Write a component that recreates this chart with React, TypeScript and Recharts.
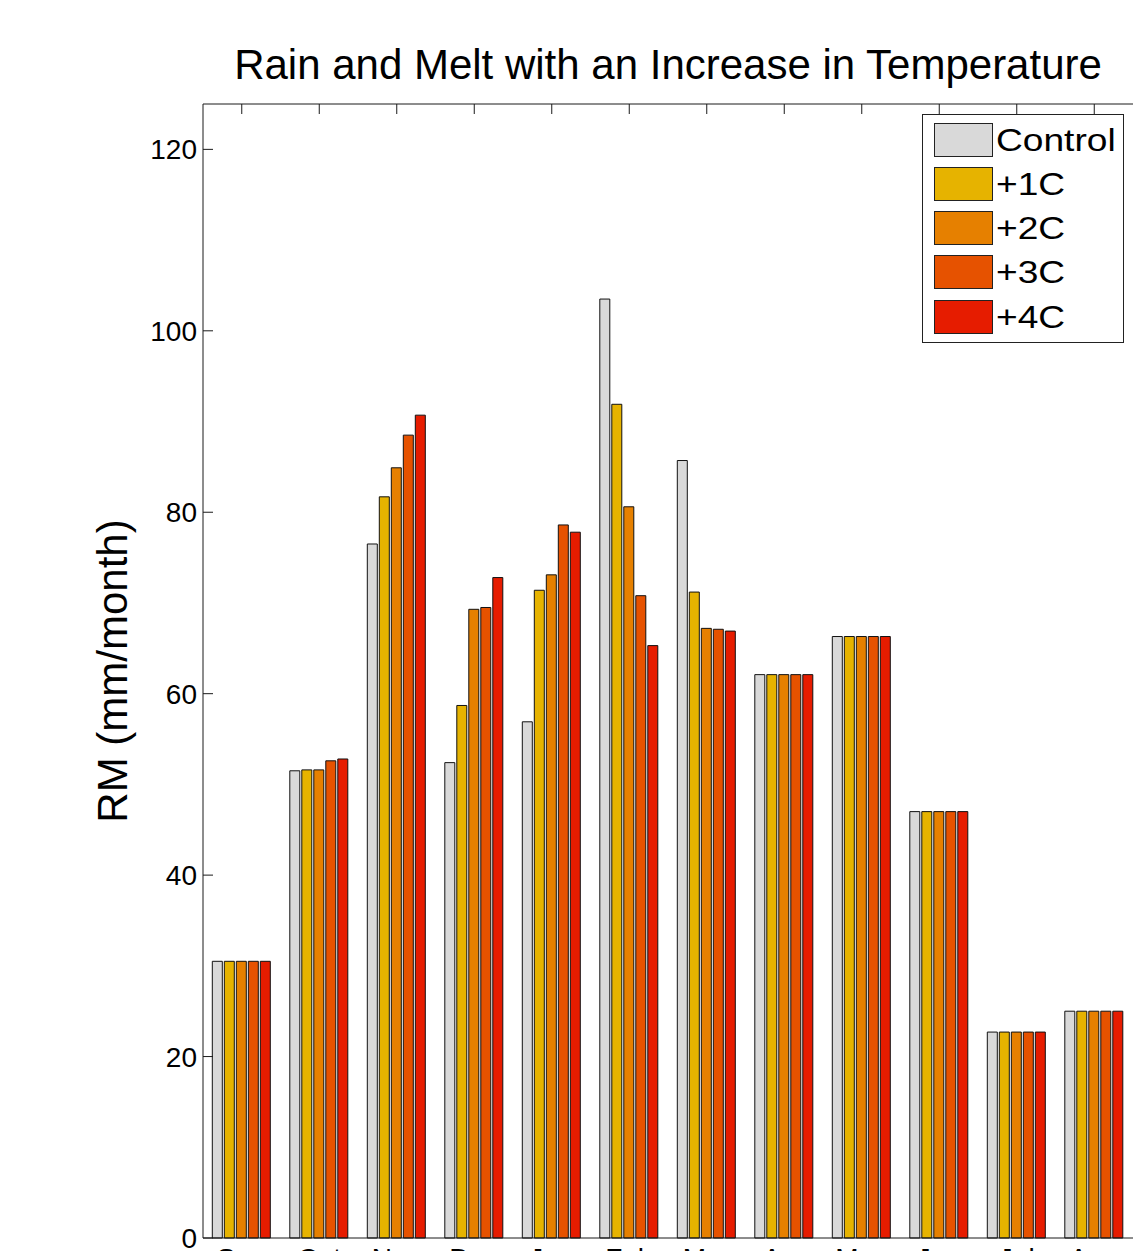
import { Bar, BarChart, Label, XAxis, YAxis } from 'recharts';

const FONT = '"Liberation Sans", Arial, Helvetica, sans-serif';

const MONTHS = ['Sep', 'Oct', 'Nov', 'Dec', 'Jan', 'Feb', 'Mar', 'Apr', 'May', 'Jun', 'Jul', 'Aug'];

// rain + melt, mm/month
const CONTROL = [30.5, 51.5, 76.5, 52.4, 56.9, 103.5, 85.7, 62.1, 66.3, 47.0, 22.7, 25.0];
const PLUS_1C = [30.5, 51.6, 81.7, 58.7, 71.4, 91.9, 71.2, 62.1, 66.3, 47.0, 22.7, 25.0];
const PLUS_2C = [30.5, 51.6, 84.9, 69.3, 73.1, 80.6, 67.2, 62.1, 66.3, 47.0, 22.7, 25.0];
const PLUS_3C = [30.5, 52.6, 88.5, 69.5, 78.6, 70.8, 67.1, 62.1, 66.3, 47.0, 22.7, 25.0];
const PLUS_4C = [30.5, 52.8, 90.7, 72.8, 77.8, 65.3, 66.9, 62.1, 66.3, 47.0, 22.7, 25.0];

const Y_TICKS = [0, 20, 40, 60, 80, 100, 120];

const SERIES = [
  { key: 'control', label: 'Control', values: CONTROL, color: '#d9d9d9' },
  { key: 'p1', label: '+1C', values: PLUS_1C, color: '#e6b300' },
  { key: 'p2', label: '+2C', values: PLUS_2C, color: '#e68000' },
  { key: 'p3', label: '+3C', values: PLUS_3C, color: '#e65200' },
  { key: 'p4', label: '+4C', values: PLUS_4C, color: '#e61c00' },
];

const data = MONTHS.map((month, i) => {
  const row: Record<string, string | number> = { month };
  SERIES.forEach((s) => {
    row[s.key] = s.values[i];
  });
  return row;
});

const tickStyle = { fill: '#000', fontSize: 28, fontFamily: FONT };
const axisStroke = '#1a1a1a';

function YLabel({ viewBox }: any) {
  const x = viewBox.x + viewBox.width - 76;
  const y = viewBox.y + viewBox.height / 2;
  return (
    <text
      x={x}
      y={y}
      transform={`rotate(-90 ${x} ${y})`}
      textAnchor="middle"
      fontSize={42}
      fontFamily={FONT}
      fill="#000"
    >
      RM (mm/month)
    </text>
  );
}

function ChartLegend() {
  return (
    <div
      style={{
        position: 'absolute',
        left: 922,
        top: 114,
        width: 200,
        height: 227,
        border: '1px solid #222',
        background: '#fff',
        fontFamily: FONT,
      }}
    >
      {SERIES.map((s, i) => (
        <div
          key={s.key}
          style={{
            position: 'absolute',
            left: 11,
            top: 8 + i * 44.3,
            height: 33,
            display: 'flex',
            alignItems: 'center',
          }}
        >
          <span
            style={{
              width: 57,
              height: 32,
              background: s.color,
              border: '1px solid #222',
            }}
          />
          <span
            style={{
              marginLeft: 3,
              fontSize: 32,
              lineHeight: 1,
              color: '#000',
              display: 'inline-block',
              transform: 'scaleX(1.16)',
              transformOrigin: 'left center',
            }}
          >
            {s.label}
          </span>
        </div>
      ))}
    </div>
  );
}

export default function App() {
  return (
    <div
      style={{
        position: 'absolute',
        left: 0,
        top: 0,
        width: 1136,
        height: 1251,
        overflow: 'hidden',
        background: '#fff',
        fontFamily: FONT,
      }}
    >
      <div
        style={{
          position: 'absolute',
          left: 203,
          top: 44,
          width: 930,
          textAlign: 'center',
          fontSize: 42,
          lineHeight: '42px',
          color: '#000',
          whiteSpace: 'nowrap',
        }}
      >
        Rain and Melt with an Increase in Temperature
      </div>
      <BarChart
        width={1136}
        height={1300}
        data={data}
        margin={{ top: 103, right: 3, bottom: 0, left: 0 }}
        barCategoryGap="12%"
        barGap={2}
      >
        <XAxis
          dataKey="month"
          interval={0}
          height={62}
          tickSize={-10}
          tickMargin={20}
          tickLine={false}
          axisLine={{ stroke: axisStroke }}
          tick={tickStyle}
        />
        <XAxis
          xAxisId="top"
          orientation="top"
          dataKey="month"
          interval={0}
          height={1}
          tickSize={-10}
          tickLine={{ stroke: axisStroke }}
          axisLine={{ stroke: axisStroke }}
          tickFormatter={() => ''}
        />
        <YAxis
          type="number"
          domain={[0, 125]}
          ticks={Y_TICKS}
          interval={0}
          width={203}
          tickSize={-10}
          tickMargin={16}
          tickLine={{ stroke: axisStroke }}
          axisLine={{ stroke: axisStroke }}
          tick={tickStyle}
        >
          <Label content={<YLabel />} />
        </YAxis>
        <YAxis
          yAxisId="right"
          orientation="right"
          type="number"
          domain={[0, 125]}
          ticks={Y_TICKS}
          interval={0}
          width={0}
          tickSize={-10}
          tickLine={{ stroke: axisStroke }}
          axisLine={{ stroke: axisStroke }}
          tickFormatter={() => ''}
        />
        {SERIES.map((s) => (
          <Bar
            key={s.key}
            dataKey={s.key}
            name={s.label}
            fill={s.color}
            stroke="#111"
            strokeWidth={1}
            isAnimationActive={false}
          />
        ))}
      </BarChart>
      <ChartLegend />
    </div>
  );
}
